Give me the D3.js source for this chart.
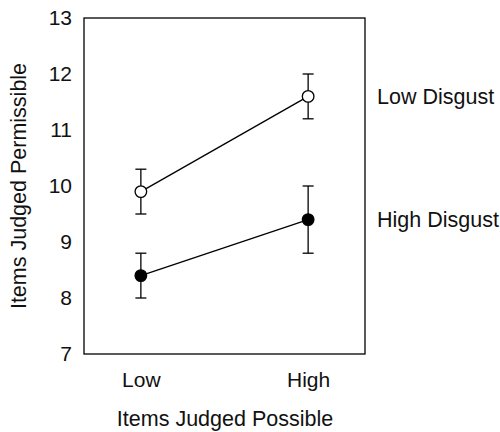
<!DOCTYPE html>
<html><head><meta charset="utf-8">
<script src="https://d3js.org/d3.v7.min.js"></script>
<style>body{margin:0;background:#fff}</style>
</head><body>
<script>
const categories = ["Low", "High"];
const seriesNames = ["Low Disgust", "High Disgust"];
const lowDisgustMean = [9.9, 11.6];
const lowDisgustUpper = [10.3, 12.0];
const lowDisgustLower = [9.5, 11.2];
const highDisgustMean = [8.4, 9.4];
const highDisgustUpper = [8.8, 10.0];
const highDisgustLower = [8.0, 8.8];
const yTicks = [7, 8, 9, 10, 11, 12, 13];

const W = 500, H = 432;
const m = {left: 84, right: 135, top: 18, bottom: 78};
const svg = d3.select("body").append("svg").attr("width", W).attr("height", H);
const font = "Liberation Sans, Arial, sans-serif";
const fs = 21.5;

const x = d3.scalePoint().domain(categories).range([m.left, W - m.right]).padding(0.34);
const y = d3.scaleLinear().domain([7, 13]).range([H - m.bottom, m.top]);

// frame
svg.append("rect").attr("x", m.left).attr("y", m.top)
  .attr("width", W - m.right - m.left).attr("height", H - m.bottom - m.top)
  .attr("fill", "none").attr("stroke", "#000").attr("stroke-width", 1.3);

// y axis labels
const yAxis = d3.axisLeft(y).tickValues(yTicks).tickFormat(d3.format("d")).tickSize(0).tickPadding(12);
const gy = svg.append("g").attr("transform", `translate(${m.left},0)`).call(yAxis);
gy.select(".domain").remove();
gy.selectAll("text").attr("font-family", font).attr("font-size", 21).attr("fill", "#111");

// x axis labels
const xAxis = d3.axisBottom(x).tickSize(0).tickPadding(18);
const gx = svg.append("g").attr("transform", `translate(0,${H - m.bottom})`).call(xAxis);
gx.select(".domain").remove();
gx.selectAll("text").attr("font-family", font).attr("font-size", 21).attr("fill", "#111");

svg.append("text").attr("x", (m.left + W - m.right) / 2 + 0.5).attr("y", 426)
  .attr("text-anchor", "middle").attr("font-family", font).attr("font-size", fs).attr("fill", "#111")
  .text("Items Judged Possible");
svg.append("text").attr("transform", `translate(26,${(m.top + H - m.bottom) / 2}) rotate(-90)`)
  .attr("text-anchor", "middle").attr("font-family", font).attr("font-size", fs).attr("fill", "#111")
  .text("Items Judged Permissible");

const series = [
  {name: seriesNames[0], mean: lowDisgustMean, up: lowDisgustUpper, lo: lowDisgustLower, fill: "#fff"},
  {name: seriesNames[1], mean: highDisgustMean, up: highDisgustUpper, lo: highDisgustLower, fill: "#000"}
];
const line = d3.line().x((d, i) => x(categories[i])).y(d => y(d));
const cap = 5.5;
series.forEach(s => {
  svg.append("path").attr("d", line(s.mean)).attr("fill", "none").attr("stroke", "#000").attr("stroke-width", 1.3);
  categories.forEach((c, i) => {
    const cx = x(c);
    svg.append("line").attr("x1", cx).attr("x2", cx).attr("y1", y(s.up[i])).attr("y2", y(s.lo[i]))
      .attr("stroke", "#000").attr("stroke-width", 1.3);
    [s.up[i], s.lo[i]].forEach(v => {
      svg.append("line").attr("x1", cx - cap).attr("x2", cx + cap).attr("y1", y(v)).attr("y2", y(v))
        .attr("stroke", "#000").attr("stroke-width", 1.3);
    });
    svg.append("circle").attr("cx", cx).attr("cy", y(s.mean[i])).attr("r", 5.8)
      .attr("fill", s.fill).attr("stroke", "#000").attr("stroke-width", 1.3);
  });
  svg.append("text").attr("x", 377).attr("y", y(s.mean[1])).attr("dy", "0.35em")
    .attr("font-family", font).attr("font-size", fs).attr("fill", "#111").text(s.name);
});
</script>
</body></html>
